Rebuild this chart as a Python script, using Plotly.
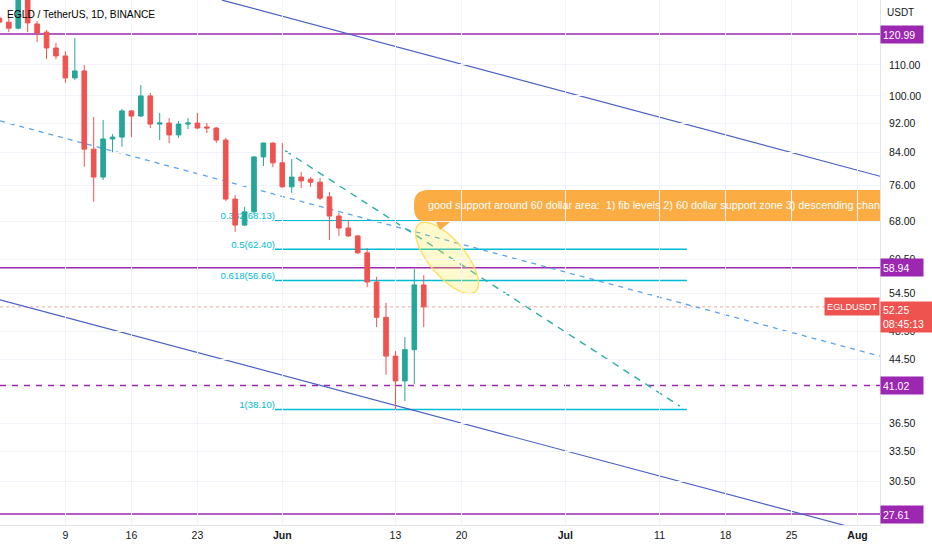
import numpy as np
import pandas as pd
import plotly.graph_objects as go

# EGLD / USDT daily candles, 2022-05-02 .. 2022-06-16
dates = pd.date_range("2022-05-02", "2022-06-16", freq="D")
opens = [127.1, 125.5, 123.2, 136.8, 124.8, 121.7, 115.9, 113.1, 105.7, 108.0,
         84.9, 77.9, 87.6, 88.1, 95.5, 94.0, 100.0, 91.7, 92.0, 88.7,
         91.7, 92.0, 90.9, 90.6, 87.3, 72.8, 67.2, 70.0, 82.9, 86.5,
         81.4, 75.6, 77.9, 77.4, 76.7, 73.3, 69.1, 66.6, 65.0, 61.7,
         56.4, 50.6, 44.9, 41.6, 45.8, 55.9]
highs = [128.6, 127.1, 139.5, 138.0, 125.9, 122.5, 117.7, 114.8, 119.5, 110.0,
         93.7, 92.9, 88.9, 96.1, 95.7, 103.4, 100.9, 94.9, 93.4, 92.6,
         93.4, 94.9, 92.0, 90.8, 87.9, 73.7, 71.1, 83.0, 86.6, 86.7,
         86.5, 82.4, 79.1, 77.9, 77.7, 74.4, 69.8, 68.3, 65.2, 62.6,
         57.3, 52.9, 45.6, 47.6, 58.7, 57.6]
lows = [124.8, 121.7, 122.8, 121.7, 118.0, 112.0, 112.0, 104.1, 105.0, 80.4,
        72.2, 77.2, 84.1, 85.5, 88.1, 93.7, 90.6, 87.3, 86.5, 87.9,
        90.3, 90.3, 89.2, 86.5, 72.4, 65.8, 67.0, 69.6, 80.6, 80.3,
        75.4, 74.2, 75.3, 75.6, 72.6, 64.2, 65.0, 64.8, 61.5, 55.5,
        49.1, 42.4, 38.1, 39.1, 41.2, 49.1]
closes = [125.5, 123.2, 136.8, 125.2, 121.4, 115.9, 113.1, 105.7, 108.0, 84.9,
          77.9, 87.6, 88.1, 95.5, 94.0, 100.0, 91.7, 92.0, 88.7, 91.7,
          92.0, 90.6, 90.6, 87.3, 72.8, 67.2, 70.0, 82.9, 86.5, 81.4,
          75.6, 77.9, 77.0, 76.7, 73.0, 69.1, 66.6, 65.0, 61.7, 56.4,
          50.6, 44.9, 41.6, 45.8, 55.9, 52.25]

last_price = 52.25
countdown = "08:45:13"

# horizontal levels drawn on the chart
levels = [120.99, 58.94, 41.02, 27.61]
level_dash = ["solid", "solid", "dash", "solid"]

# fibonacci retracement
fib_ratio = ["0.382", "0.5", "0.618", "1"]
fib_price = [68.13, 62.40, 56.66, 38.10]
fib_span = ["2022-05-31 05:20", "2022-07-13 21:40"]

# trend lines (time, price)
chan_upper = (["2022-05-25 14:40", "2022-08-03 09:07"], [134.3, 78.1])
chan_lower = (["2022-05-02 01:34", "2022-08-03 09:07"], [53.4, 25.9])
dash_long = (["2022-05-02 01:34", "2022-08-03 09:07"], [92.6, 44.9])
dash_steep = (["2022-06-01 07:00", "2022-07-13 03:50"], [84.5, 38.5])

tick_dates = ["2022-05-09", "2022-05-16", "2022-05-23", "2022-06-01", "2022-06-13",
              "2022-06-20", "2022-07-01", "2022-07-11", "2022-07-18", "2022-07-25",
              "2022-08-01"]
tick_names = ["9", "16", "23", "<b>Jun</b>", "13", "20", "<b>Jul</b>", "11", "18",
              "25", "<b>Aug</b>"]
price_ticks = [30.5, 33.5, 36.5, 44.5, 48.5, 54.5, 60.5, 68, 76, 84, 92, 100, 110]

note = ("good support around 60 dollar area:\u00a0\u00a01) fib levels 2) 60 dollar "
        "support zone 3) descending channel")

FONT = "Liberation Sans, Arial, sans-serif"
INK = "#131722"
PURPLE = "#9c27b0"
CYAN = "#00bcd4"
UP = "#26a69a"
DOWN = "#ef5350"
GRID = "#f0f3fa"

fig = go.Figure()

fig.add_trace(go.Candlestick(
    x=dates, open=opens, high=highs, low=lows, close=closes,
    increasing=dict(line=dict(color=UP, width=1), fillcolor=UP),
    decreasing=dict(line=dict(color=DOWN, width=1), fillcolor=DOWN),
    whiskerwidth=0, hoverinfo="skip", showlegend=False))

fig.add_trace(go.Scatter(
    x=["2022-06-16 10:50"], y=[71.27], mode="text", text=[note],
    textposition="middle right", cliponaxis=True,
    textfont=dict(color="white", size=10.8, family=FONT),
    hoverinfo="skip", showlegend=False))

shapes = []


def seg(xs, ys, color, width, dash="solid"):
    return dict(type="line", xref="x", yref="y", x0=xs[0], x1=xs[1],
                y0=ys[0], y1=ys[1], layer="below",
                line=dict(color=color, width=width, dash=dash))


# current price line
shapes.append(dict(type="line", xref="paper", yref="y", x0=0, x1=0.942,
                   y0=last_price, y1=last_price, layer="below",
                   line=dict(color="rgba(239,83,80,0.55)", width=1, dash="dot")))

for lv, ds in zip(levels, level_dash):
    shapes.append(dict(type="line", xref="paper", yref="y", x0=0, x1=1,
                       y0=lv, y1=lv, layer="below",
                       line=dict(color=PURPLE, width=1.5,
                                 dash="6px,6px" if ds == "dash" else "solid")))

for r, p in zip(fib_ratio, fib_price):
    shapes.append(seg(fib_span, [p, p], CYAN, 1.5))
    # invisible carrier a few pixels above the level holds the label
    lab = seg(fib_span, [p * 1.017, p * 1.017], "rgba(0,0,0,0)", 0)
    lab["label"] = dict(text="%s(%.2f)" % (r, p), textposition="start",
                        xanchor="right", yanchor="middle", padding=5,
                        font=dict(color=CYAN, size=9.6, family=FONT))
    shapes.append(lab)

shapes.append(seg(chan_upper[0], chan_upper[1], "#4a62c4", 1.2))
shapes.append(seg(chan_lower[0], chan_lower[1], "#4a62c4", 1.2))
shapes.append(seg(dash_long[0], dash_long[1], "#5ba4ee", 1.3, "5px,5px"))
shapes.append(seg(dash_steep[0], dash_steep[1], "#2bb0a4", 1.4, "7px,6px"))

# highlight ellipse (pixel offsets around an anchor point)
t = np.linspace(0, 2 * np.pi, 49)
ang = np.deg2rad(-50)
ex = 44 * np.cos(t) * np.cos(ang) - 18 * np.sin(t) * np.sin(ang)
ey = 44 * np.cos(t) * np.sin(ang) + 18 * np.sin(t) * np.cos(ang)
ell = "M " + " L ".join("%.1f,%.1f" % (a, b) for a, b in zip(ex, ey)) + " Z"
shapes.append(dict(type="path", xref="x", yref="y", xsizemode="pixel",
                   ysizemode="pixel", xanchor="2022-06-18 11:15", yanchor=60.74,
                   path=ell, layer="below", fillcolor="rgba(255,235,59,0.25)",
                   line=dict(color="rgba(250,222,90,0.9)", width=1.5)))

# callout box
box = ("M 14,16 L 520,16 L 520,-16 L 36,-16 L 26,-24 L 22,-16 L 14,-16 "
       "Q 0,-16 0,-2 L 0,2 Q 0,16 14,16 Z")
shapes.append(dict(type="path", xref="x", yref="y", xsizemode="pixel",
                   ysizemode="pixel", xanchor="2022-06-14 23:15", yanchor=71.27,
                   path=box, layer="below", fillcolor="rgba(251,169,59,0.96)",
                   line=dict(width=0)))

annotations = [
    dict(xref="paper", yref="paper", x=0, y=1, xanchor="left", yanchor="top",
         xshift=5, yshift=-7, showarrow=False, text="EGLD / TetherUS, 1D, BINANCE",
         font=dict(family=FONT, size=10.2, color="#000000")),
    dict(xref="paper", yref="paper", x=1, y=1, xanchor="left", yanchor="top",
         xshift=5, yshift=-5, showarrow=False, text="USDT",
         font=dict(family=FONT, size=10, color=INK)),
]
for lv in levels:
    annotations.append(dict(
        xref="paper", yref="y", x=1, y=np.log10(lv), xanchor="left",
        yanchor="middle", showarrow=False, text="%.2f" % lv, bgcolor=PURPLE,
        width=38, height=13, align="left", borderpad=2,
        font=dict(family=FONT, size=10.5, color="white")))
annotations.append(dict(
    xref="paper", yref="y", x=1, y=np.log10(last_price), xanchor="right",
    yanchor="middle", showarrow=False, text="EGLDUSDT", bgcolor=DOWN,
    height=13, borderpad=2, font=dict(family=FONT, size=9.2, color="white")))
annotations.append(dict(
    xref="paper", yref="y", x=1, y=np.log10(53.2), xanchor="left",
    yanchor="top", showarrow=False, text="%.2f<br>%s" % (last_price, countdown),
    bgcolor=DOWN, width=48, height=26, align="left", borderpad=2,
    font=dict(family=FONT, size=10.5, color="white")))

fig.update_layout(
    width=932, height=550, margin=dict(l=0, r=52, t=0, b=25),
    paper_bgcolor="white", plot_bgcolor="white", showlegend=False,
    hovermode=False, shapes=shapes, annotations=annotations,
    font=dict(family=FONT, size=10.5, color=INK),
    xaxis=dict(type="date", range=["2022-05-02 01:34", "2022-08-03 09:07"],
               tickvals=tick_dates, ticktext=tick_names, ticks="",
               showgrid=True, gridcolor=GRID, zeroline=False,
               showline=True, linecolor="#e0e3eb", rangeslider=dict(visible=False),
               tickfont=dict(family=FONT, size=10.5, color=INK)),
    yaxis=dict(type="log", range=[np.log10(26.70), np.log10(134.35)], side="right",
               tickvals=price_ticks, ticktext=["%.2f" % v for v in price_ticks],
               ticks="", ticklabelstandoff=6, showgrid=True, gridcolor=GRID,
               zeroline=False, showline=True, linecolor="#e0e3eb",
               tickfont=dict(family=FONT, size=10.5, color=INK)),
)

fig.write_html("out.html", config={"displayModeBar": False},
               post_script="document.body.style.margin='0px';")
